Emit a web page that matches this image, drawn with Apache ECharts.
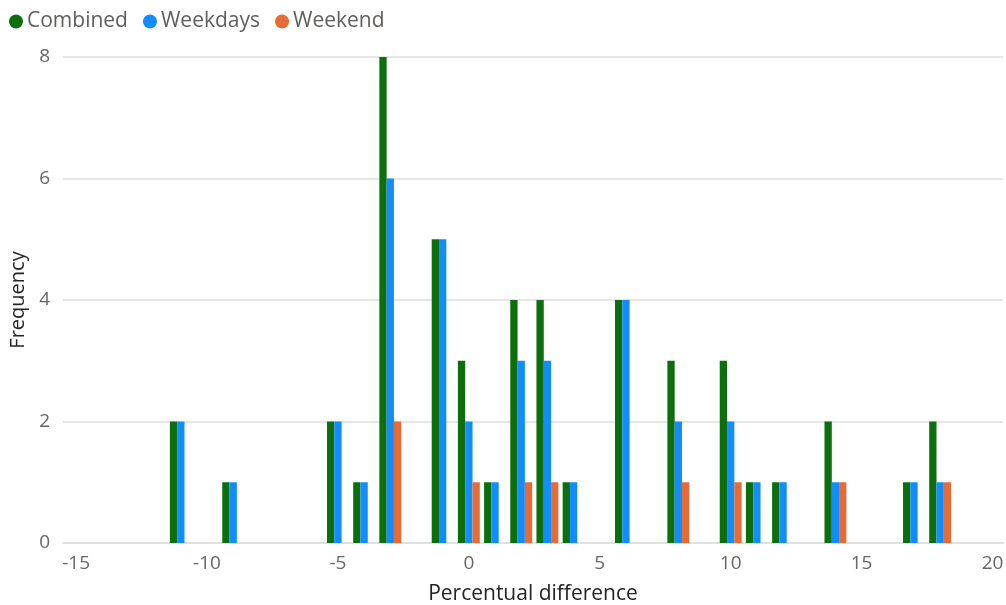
<!DOCTYPE html>
<html>
<head>
<meta charset="utf-8">
<script src="https://cdn.jsdelivr.net/npm/echarts@6/dist/echarts.min.js"></script>
<style>
html,body{margin:0;padding:0;background:#fff;}
#chart{width:1006px;height:605px;}
</style>
</head>
<body>
<div id="chart"></div>
<script>
const diffs    = [-11, -9, -5, -4, -3, -1, 0, 1, 2, 3, 4, 6, 8, 10, 11, 12, 14, 17, 18];
const combined = [2, 1, 2, 1, 8, 5, 3, 1, 4, 4, 1, 4, 3, 3, 1, 1, 2, 1, 2];
const weekdays = [2, 1, 2, 1, 6, 5, 2, 1, 3, 3, 1, 4, 2, 2, 1, 1, 1, 1, 1];
const weekend  = [null, null, null, null, 2, null, 1, null, 1, 1, null, null, 1, 1, null, null, 1, null, 1];
const xTicks   = [-15, -10, -5, 0, 5, 10, 15, 20];
const yTicks   = [0, 2, 4, 6, 8];

const FONT = '"Open Sans", "Noto Sans", sans-serif';
const pairs = arr => diffs.map((d, i) => [d, arr[i]]);

const chart = echarts.init(document.getElementById('chart'), null, {renderer: 'canvas'});
const barStyle = (name, color, arr) => ({
  name: name,
  type: 'bar',
  data: pairs(arr),
  barWidth: 7.3,
  barGap: '0%',
  itemStyle: {color: color},
  emphasis: {disabled: true}
});

chart.setOption({
  animation: false,
  legend: {
    left: 4,
    top: 6,
    icon: 'circle',
    itemWidth: 14,
    itemHeight: 14,
    itemGap: 15,
    textStyle: {fontFamily: FONT, fontSize: 21, color: '#605E5C', padding: [0, 0, 0, -1]},
    data: ['Combined', 'Weekdays', 'Weekend']
  },
  grid: {left: 63, right: 3, top: 57, bottom: 62, containLabel: false, outerBoundsMode: 'none'},
  xAxis: {
    type: 'value',
    min: -15.5,
    max: 20.4,
    name: 'Percentual difference',
    nameLocation: 'middle',
    nameGap: 41,
    nameTextStyle: {fontFamily: FONT, fontSize: 21, color: '#252423'},
    axisLine: {show: true, lineStyle: {color: '#E0E0E0', width: 2}},
    axisTick: {show: false},
    splitLine: {show: false},
    axisLabel: {
      customValues: xTicks,
      fontFamily: FONT, fontSize: 19, color: '#666666', margin: 11
    }
  },
  yAxis: {
    type: 'value',
    min: 0,
    max: 8,
    interval: 2,
    name: 'Frequency',
    nameLocation: 'middle',
    nameGap: 32,
    nameTextStyle: {fontFamily: FONT, fontSize: 20, color: '#252423'},
    axisLine: {show: false},
    axisTick: {show: false},
    splitLine: {lineStyle: {color: '#E6E6E6', width: 2}},
    axisLabel: {fontFamily: FONT, fontSize: 19, color: '#666666', margin: 13}
  },
  series: [
    barStyle('Combined', '#0C6E0C', combined),
    barStyle('Weekdays', '#118DFF', weekdays),
    barStyle('Weekend', '#E66C37', weekend)
  ]
});
</script>
</body>
</html>
